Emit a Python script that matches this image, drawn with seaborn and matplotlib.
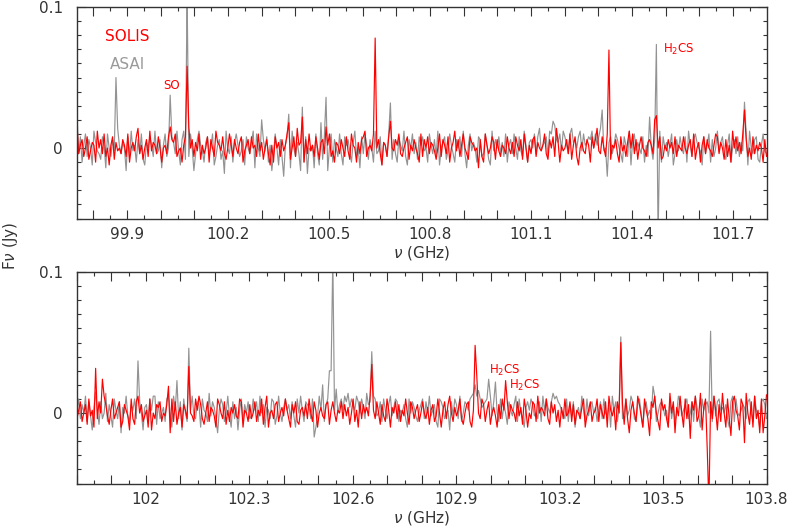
import numpy as np
import matplotlib
matplotlib.use("Agg")
import matplotlib.pyplot as plt
from matplotlib.ticker import MultipleLocator, FixedLocator, FuncFormatter
import seaborn as sns

# spectra, one letter per channel: 'm' = 0, each letter step = 2 mJy
top_solis = [
    "rknpjmqilonhsmpkrjmgnqiolmkpnjrhmolqtknimpjslonkqmh",
    "mnkqiporjlmhnqkfmpjolrinkmqhpmjsonlqkimrnjpmkoqhlnp",
    "kqmnjrloimpkgnhqmojplnrkimqjtnomhpkrlnjqmiopkmnrjlh",
    "onkpmjqlirnmhokpqsjmnlrimpkgonjqhmlpnrkjmoqinlpmkhr",
    "jpmqkonlimrjpnkqhmoslpjnrmkiqonlmfpjhrnkmqoipljnmkq",
    "mkojqnlpirmhnkpqjomlnrkipmqjtohnlmpkrinqjgmolkpnhqm",
    "pnlkqmjroinmpkhqlnjosmrkpinqmljopnkrhmqijnlpmokqjnm",
    "lqmknpjrimohnqkpmljnrqkomipjnhsmqlokrnpjmiqknlomhpj",
]
top_asai = [
    "ukqhnrjpmgsolkiqnfrmjplhtnkomeqjslnhpkrigomqnjsklpf",
    "nrjmhqokslgpniqjrmekpsnlhoqkmrgjnpildsmkqhornjlpgqm",
    "kosfrmjdplqhnekrmgpjcnqlfsmjokerhqdmlnfrkgoiqjemrhp",
    "mjrkgqnplhosjmfqkrnipmhsklqgonjrmipkhqnlsjgpmrkoiqn",
    "qlmhrnkpjsgmoqilrnkhpmqjskfnrlomhqpjkrnigslpmqkojrh",
    "npkrmiqljsnhopmrkqtlnoqjsrmuporlsqnkrtopmqslrnoqpsm",
    "rnqtplmsoqknrpmkhqnjsgprlomkqhnjrmipklshqmojnrgkplq",
    "mkqhsnjpromlgqknrhpjmsloqkinrhmpkqjolnrgsmkpqihnrlk",
]
bot_solis = [
    "knqjmpirlnhokqmjsplinrkmoqhjpnlmrkiqompjlnhrgmkpoqj",
    "mlpknrjqimohpnkqmljrnspkimqjonlhrpmkqinjomplkrqhnmj",
    "pkmqjnlrioshmnkpqjmolrnkhpmqjinolpkrmjqnhmolkpqinrm",
    "jnmqkploimrjnhqkpmolsjnkqmipljrnhomqkpjnlrmiqoknpjm",
    "qmkoinpjlrmhnqkpsmjolnrkimpqjhnolmkrpjnqimolhpkrnmq",
    "kpnmjqloirnhmkqpjsmonlrkiqmpjnhokrlmqjpinmkorhlnqjm",
    "nrjpmkqhsnlogqmtpirkfnqmjsplhrnkeqosmjgrnpkhtmqfols",
    "mhrkpdqnsjltgormfqksngpjtmhrkeqsnlgrpjtmiqhsknfrplj",
]
bot_asai = [
    "nrkpmsjqlgorniqkmtjplhrnkqfomsljpnrkhqmgopjrnlsiqkm",
    "ojrlmhsnpkqgrmjonslkqphrnmjtlqokfnrpjmslhqkognrjpmq",
    "klrnqjsmphonkrqilsmjornpkqlhrmsnjqpokrmhlsnqjprkomn",
    "cmprnsqtorpnsqmroktpqnsrlmqjrnkpslorqjnmpkhrmqoljnp",
    "rkqmslnpjhrqokmngqlrpksjmqpnrstqsuropqrnslqpmjrkpmi",
    "qnlpsjrmkhoqnrplmkqjsnromqtrsqpnmkrjplqhmoksnjrlpqm",
    "ojnqkrmlphsnqjopkmrlnsqkjprmhoqlnkrsjmpqolnhrkpjmsq",
    "lnprkmqjsolhrnpqmkjslqrnompkhqsjrmlnpokqrmjsnlhqrpk",
]

# line channels (GHz, Jy)
top_solis_lines = [(99.752, 0.016), (100.030, 0.015), (100.077, 0.058), (100.082, 0.015),
                   (100.381, 0.018), (100.419, 0.022), (100.490, 0.015), (100.638, 0.078),
                   (100.681, 0.019), (101.295, 0.014), (101.331, 0.0695), (101.466, 0.020),
                   (101.474, 0.023), (101.735, 0.027)]
top_asai_lines = [(99.752, 0.023), (99.867, 0.050), (100.030, 0.0375), (100.077, 0.11),
                  (100.068, 0.012), (100.30, 0.020), (100.381, 0.024), (100.419, 0.029),
                  (100.490, 0.036), (100.478, 0.018), (100.681, 0.032), (101.165, 0.019),
                  (101.313, 0.027), (101.326, -0.020), (101.45, 0.022), (101.474, 0.0735),
                  (101.479, -0.065), (101.735, 0.0325)]
bot_solis_lines = [(101.852, 0.0317), (101.872, 0.024), (101.979, 0.012), (101.95, -0.012),
                   (102.065, 0.019), (102.070, -0.014), (102.123, 0.033), (102.543, 0.008),
                   (102.656, 0.0345), (102.957, 0.048), (102.962, 0.026), (103.041, 0.023),
                   (103.379, 0.050), (103.628, -0.025), (103.633, -0.065), (103.735, -0.021),
                   (103.788, -0.014), (103.798, 0.013)]
bot_asai_lines = [(101.852, 0.015), (101.979, 0.037), (102.023, 0.012), (102.065, 0.012),
                  (102.088, 0.023), (102.123, 0.046), (102.49, -0.017), (102.513, 0.020),
                  (102.533, 0.030), (102.538, 0.030), (102.543, 0.11), (102.55, 0.017),
                  (102.656, 0.0435), (102.957, 0.020), (102.995, 0.024), (103.015, 0.022),
                  (103.379, 0.054), (103.47, 0.019), (103.64, 0.058)]

top_range = (99.7515, 101.799)
bot_range = (101.8, 103.8)

RED = "#ff0000"
GREY = "#939393"
INK = "#333333"


def spectrum(rows, lines, lo, hi):
    vals = np.array([ord(c) - ord("m") for c in "".join(rows)], dtype=float) * 0.002
    freq = np.linspace(lo, hi, len(vals))
    for f, v in lines:
        vals[np.abs(freq - f).argmin()] = v
    return freq, vals


sns.set_style("ticks")
plt.rcParams["font.family"] = ["DejaVu Sans"]
plt.rcParams["mathtext.fontset"] = "dejavusans"

fig = plt.figure(figsize=(7.9, 5.32), dpi=100)
ax1 = fig.add_axes([77 / 790, 1 - 219 / 532, 689.5 / 790, 212 / 532])
ax2 = fig.add_axes([77 / 790, 1 - 484 / 532, 689.5 / 790, 212 / 532])

panels = [
    (ax1, top_range, top_asai, top_asai_lines, top_solis, top_solis_lines),
    (ax2, bot_range, bot_asai, bot_asai_lines, bot_solis, bot_solis_lines),
]
for ax, (lo, hi), grey_rows, grey_lines, red_rows, red_lines in panels:
    fx, fy = spectrum(grey_rows, grey_lines, lo, hi)
    sns.lineplot(x=fx, y=fy, color=GREY, lw=0.85, ax=ax, estimator=None)
    fx, fy = spectrum(red_rows, red_lines, lo, hi)
    sns.lineplot(x=fx, y=fy, color=RED, lw=0.85, ax=ax, estimator=None)

    ax.set_xlim(lo, hi)
    ax.set_ylim(-0.0503, 0.1)
    ax.xaxis.set_major_locator(MultipleLocator(0.1))
    ax.xaxis.set_minor_locator(MultipleLocator(0.05))
    ax.xaxis.set_major_formatter(FuncFormatter(
        lambda v, p: f"{v:g}" if round(v * 10) % 3 == 0 else ""))
    ax.yaxis.set_major_locator(FixedLocator([0, 0.1]))
    ax.yaxis.set_minor_locator(MultipleLocator(0.01))
    ax.yaxis.set_major_formatter(FuncFormatter(lambda v, p: f"{v:g}"))
    ax.tick_params(which="both", direction="in", top=True, right=True,
                   color=INK, labelcolor=INK, labelsize=11)
    ax.tick_params(which="major", length=6.5, width=0.8)
    ax.tick_params(which="minor", length=3.2, width=0.8)
    ax.tick_params(axis="x", pad=6)
    ax.tick_params(axis="y", pad=10)
    for s in ax.spines.values():
        s.set_color(INK)
        s.set_linewidth(1.0)
    ax.set_xlabel(r"$\nu$ (GHz)", fontsize=11, color=INK, labelpad=1)
    ax.set_ylabel("")

fig.text(10 / 790, 1 - 246 / 532, r"F$\nu$ (Jy)", rotation=90, ha="center", va="center",
         fontsize=11, color=INK)

ax1.text(99.835, 0.0759, "SOLIS", color=RED, fontsize=11, va="baseline")
ax1.text(99.850, 0.056, "ASAI", color="#9a9a9a", fontsize=11, va="baseline")
ax1.text(100.007, 0.0418, "SO", color=RED, fontsize=8.5, va="baseline")
ax1.text(101.491, 0.0674, "H$_2$CS", color=RED, fontsize=8.5, va="baseline")
ax2.text(102.994, 0.0275, "H$_2$CS", color=RED, fontsize=8.5, va="baseline")
ax2.text(103.052, 0.0169, "H$_2$CS", color=RED, fontsize=8.5, va="baseline")

fig.savefig("out.png", dpi=100)
